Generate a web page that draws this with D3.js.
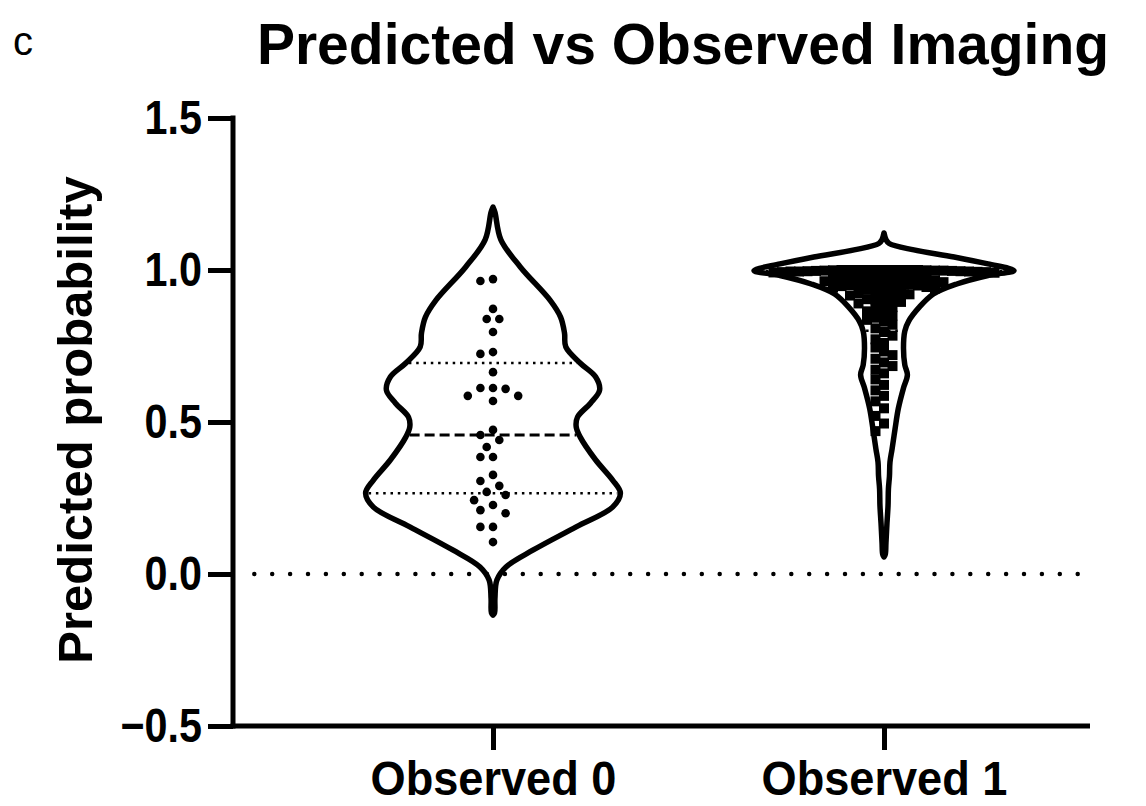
<!DOCTYPE html>
<html>
<head>
<meta charset="utf-8">
<script src="https://cdn.jsdelivr.net/npm/d3@7"></script>
<style>
  body { margin: 0; background: #fff; }
  text { font-family: "Liberation Sans", Arial, sans-serif; }
</style>
</head>
<body>
<div id="chart"></div>
<script>
// Groups on the x axis
const categories = ['Observed 0', 'Observed 1'];
const yTicks = [-0.5, 0, 0.5, 1.0, 1.5];

// Individual predicted probabilities
const obs0Values = [0.970, 0.964, 0.872, 0.839, 0.839, 0.796, 0.730, 0.724, 0.664,
    0.612, 0.612, 0.609, 0.586, 0.586, 0.569, 0.474, 0.457, 0.441, 0.418, 0.385,
    0.385, 0.326, 0.306, 0.290, 0.270, 0.260, 0.243, 0.227, 0.210, 0.200, 0.155,
    0.155, 0.105];

const obs1Values = [1.0, 1.0, 1.0, 1.0, 1.0, 1.0, 1.0, 1.0, 1.0, 1.0,
    0.999, 0.999, 0.998, 0.998, 0.998, 0.997, 0.997, 0.996, 0.996, 0.995,
    0.995, 0.995, 0.994, 0.993, 0.993, 0.992, 0.991, 0.990,
    0.988, 0.986, 0.984, 0.982, 0.981, 0.979, 0.978, 0.976, 0.975, 0.973, 0.972, 0.970,
    0.966, 0.963, 0.961, 0.960, 0.958, 0.957, 0.955, 0.954, 0.952, 0.950, 0.949, 0.947,
    0.945, 0.944, 0.942, 0.941, 0.939, 0.938, 0.936, 0.935,
    0.930, 0.927, 0.924, 0.920, 0.916, 0.912, 0.908, 0.904, 0.900, 0.895, 0.890, 0.885,
    0.878, 0.871, 0.864, 0.857, 0.850, 0.843, 0.836, 0.830,
    0.820, 0.808, 0.796, 0.784, 0.772, 0.760,
    0.745, 0.732, 0.720, 0.708, 0.696, 0.684, 0.672, 0.660,
    0.640, 0.622, 0.604, 0.586, 0.568,
    0.545, 0.520, 0.495, 0.470];

// Violin outlines: [value, relative density]
const obs0Density = [[1.207, 0], [1.19, 0.015], [1.10, 0.06], [1.01, 0.21], [0.90, 0.44],
    [0.845, 0.52], [0.793, 0.55], [0.747, 0.56], [0.694, 0.67], [0.648, 0.79],
    [0.605, 0.82], [0.562, 0.75], [0.516, 0.65], [0.484, 0.64], [0.451, 0.67],
    [0.375, 0.79], [0.309, 0.92], [0.266, 0.98], [0.22, 0.92], [0.155, 0.64],
    [0.079, 0.31], [0.023, 0.10], [-0.02, 0.03], [-0.08, 0.015], [-0.128, 0.012],
    [-0.135, 0]];

const obs1Density = [[1.122, 0], [1.10, 0.015], [1.087, 0.04], [1.066, 0.23], [1.043, 0.54],
    [1.02, 0.80], [0.998, 1.0], [0.982, 0.80], [0.954, 0.56], [0.921, 0.38],
    [0.877, 0.27], [0.832, 0.19], [0.799, 0.16], [0.743, 0.15], [0.688, 0.16],
    [0.655, 0.18], [0.612, 0.15], [0.544, 0.11], [0.477, 0.085], [0.411, 0.062],
    [0.368, 0.046], [0.322, 0.042], [0.280, 0.034], [0.224, 0.031], [0.168, 0.023],
    [0.102, 0.015], [0.065, 0.01], [0.056, 0]];

// Quartiles [Q1, median, Q3]
const obs0Quartiles = [0.266, 0.457, 0.694];
const obs1Quartiles = [0.80, 0.94, 0.997];

const groups = [
    { name: categories[0], values: obs0Values, density: obs0Density, quartiles: obs0Quartiles, shape: 'circle' },
    { name: categories[1], values: obs1Values, density: obs1Density, quartiles: obs1Quartiles, shape: 'square' }
];

// Chart dimensions
const W = 1146, H = 806;
const margin = { top: 118, left: 233 };
const plotW = 857, plotH = 608;

const svg = d3.select('#chart')
    .append('svg')
    .attr('width', W)
    .attr('height', H);

const g = svg.append('g')
    .attr('transform', `translate(${margin.left},${margin.top})`);

const y = d3.scaleLinear().domain([-0.5, 1.5]).range([plotH, 0]);
const x = d3.scalePoint().domain(categories).range([260, 651]);
const w = d3.scaleLinear().domain([0, 1]).range([0, 130]);

function widthAt(dens, v) {
    for (let i = 0; i < dens.length - 1; i++) {
        const a = dens[i], b = dens[i + 1];
        if (v <= a[0] && v >= b[0]) {
            const t = (a[0] - v) / (a[0] - b[0]);
            return a[1] + t * (b[1] - a[1]);
        }
    }
    return 0;
}

// Simple swarm layout: offsets in half steps, closest to centre first,
// kept inside the violin; if no free spot, take the least crowded one
function swarm(values, dens, step, pad, collide) {
    const placed = [];
    const sorted = values.slice().sort((a, b) => b - a);
    sorted.forEach(v => {
        const py = y(v);
        const limit = Math.max(step, w(widthAt(dens, v)) - pad);
        let best = null;
        for (let k = 0; k < 80; k++) {
            const off = (k % 2 === 0 ? 1 : -1) * Math.ceil(k / 2) * step;
            if (Math.abs(off) > limit) break;
            const hits = placed.filter(p => collide(p.dx - off, p.py - py)).length;
            if (best === null || hits < best.hits) best = { off: off, hits: hits };
            if (hits === 0) break;
        }
        placed.push({ v: v, dx: best.off, py: py });
    });
    return placed;
}

// squeeze text a little horizontally, like the original figure
function condense(sel, ratio) {
    sel.each(function() {
        const len = this.getComputedTextLength();
        d3.select(this)
            .attr('textLength', len * ratio)
            .attr('lengthAdjust', 'spacingAndGlyphs');
    });
}

// Violins
const area = d3.area()
    .curve(d3.curveCatmullRom);

groups.forEach(grp => {
    const cx = x(grp.name);
    area.y(d => y(d[0]))
        .x0(d => cx - w(d[1]))
        .x1(d => cx + w(d[1]));

    g.append('path')
        .datum(grp.density)
        .attr('d', area)
        .attr('fill', '#fff')
        .attr('stroke', '#000')
        .attr('stroke-width', 5.5)
        .attr('stroke-linejoin', 'round');

    // Quartile lines
    grp.quartiles.forEach((q, i) => {
        const hw = w(widthAt(grp.density, q)) - 3;
        g.append('line')
            .attr('x1', cx - hw)
            .attr('x2', cx + hw)
            .attr('y1', y(q))
            .attr('y2', y(q))
            .attr('stroke', '#000')
            .attr('stroke-width', i === 1 ? 3 : 2.5)
            .attr('stroke-dasharray', i === 1 ? '10 5' : '2.5 4.8');
    });

    // Points
    if (grp.shape === 'circle') {
        const pts = swarm(grp.values, grp.density, 6.3, 8,
            (dx, dy) => dx * dx + dy * dy < 11 * 11);
        g.selectAll(null)
            .data(pts)
            .enter()
            .append('circle')
            .attr('cx', d => cx + d.dx)
            .attr('cy', d => d.py)
            .attr('r', 4.3)
            .attr('fill', '#000');
    } else {
        const pts = swarm(grp.values, grp.density, 8.5, 8,
            (dx, dy) => Math.abs(dx) < 8.4 && Math.abs(dy) < 8);
        g.selectAll(null)
            .data(pts)
            .enter()
            .append('rect')
            .attr('x', d => cx + d.dx - 5)
            .attr('y', d => d.py - 5)
            .attr('width', 10)
            .attr('height', 10)
            .attr('fill', '#000');
    }
});

// Dotted zero line
g.append('line')
    .attr('x1', 21.3)
    .attr('x2', plotW)
    .attr('y1', y(0))
    .attr('y2', y(0))
    .attr('stroke', '#000')
    .attr('stroke-width', 4.5)
    .attr('stroke-linecap', 'round')
    .attr('stroke-dasharray', '0 17.9');

// Y axis
const yAxis = g.append('g')
    .call(d3.axisLeft(y).tickValues(yTicks).tickFormat(d3.format('.1f')).tickSize(25).tickPadding(6));
yAxis.select('.domain').remove();
yAxis.selectAll('.tick line').attr('stroke', '#000').attr('stroke-width', 5);
yAxis.selectAll('text')
    .attr('fill', '#000')
    .style('font-size', '48px')
    .style('font-weight', 'bold')
    .call(condense, 0.86);
g.append('line')
    .attr('x1', 0).attr('x2', 0)
    .attr('y1', -2.5).attr('y2', plotH + 2.5)
    .attr('stroke', '#000').attr('stroke-width', 5);

// X axis
const xAxis = g.append('g')
    .attr('transform', `translate(0,${plotH})`)
    .call(d3.axisBottom(x).tickSize(24).tickPadding(11));
xAxis.select('.domain').remove();
xAxis.selectAll('.tick line').attr('stroke', '#000').attr('stroke-width', 5);
xAxis.selectAll('text')
    .attr('fill', '#000')
    .style('font-size', '48px')
    .style('font-weight', 'bold')
    .call(condense, 0.94);
g.append('line')
    .attr('x1', -2.5).attr('x2', plotW)
    .attr('y1', plotH).attr('y2', plotH)
    .attr('stroke', '#000').attr('stroke-width', 5);

// Y axis title
svg.append('text')
    .attr('transform', 'translate(92,420) rotate(-90)')
    .attr('text-anchor', 'middle')
    .style('font-size', '49px')
    .style('font-weight', 'bold')
    .text('Predicted probability');

// Chart title and panel letter
svg.append('text')
    .attr('x', 683)
    .attr('y', 64)
    .attr('text-anchor', 'middle')
    .style('font-size', '57px')
    .style('font-weight', 'bold')
    .text('Predicted vs Observed Imaging');

svg.append('text')
    .attr('x', 13)
    .attr('y', 55)
    .style('font-size', '40px')
    .text('c');
</script>
</body>
</html>
